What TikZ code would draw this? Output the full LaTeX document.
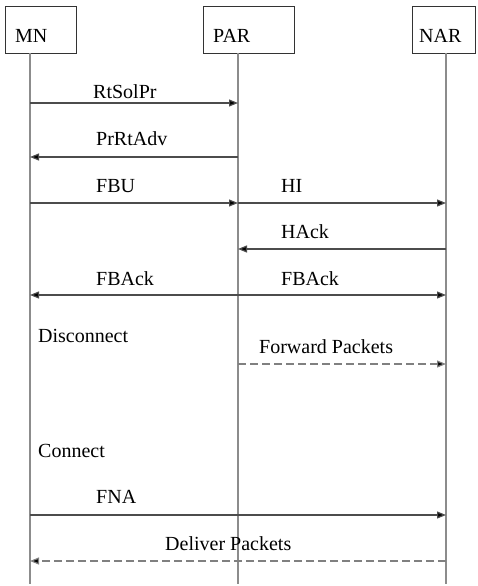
\documentclass[tikz,border=0pt]{standalone}
\usepackage{fontspec}
\setmainfont{Liberation Serif}
\usetikzlibrary{arrows.meta}
\begin{document}
\begin{tikzpicture}[x=1pt,y=-1pt,
  entity/.style={draw=black!80,line width=1pt,inner sep=0pt,anchor=north west},
  lifeline/.style={draw=black!45,line width=1.6pt},
  msg/.style={draw=black!70,line width=1.2pt,-{Triangle[length=9pt,width=7pt,fill=black]}},
  dmsg/.style={msg,draw=black!50,dash pattern=on 8pt off 4pt},
  lbl/.style={anchor=base west,inner sep=0pt,font=\fontsize{20}{24}\selectfont}]
\useasboundingbox (0,0) rectangle (477,586);
% participant boxes
\node[entity,minimum width=71pt,minimum height=47pt] (mnbox) at (5,6) {};
\node[entity,minimum width=91pt,minimum height=47pt] (parbox) at (203,6) {};
\node[entity,minimum width=63pt,minimum height=47pt] (narbox) at (412,6) {};
\node[lbl] (mnt) at (15,43) {MN};
\node[lbl] (part) at (213,43) {PAR};
\node[lbl] (nart) at (419,43) {NAR};
% lifelines
\coordinate (mn) at (30,53);
\coordinate (par) at (238,53);
\coordinate (nar) at (446,53);
\coordinate (mnend) at (30,584);
\coordinate (parend) at (238,584);
\coordinate (narend) at (446,584);
\draw[lifeline] (mn) -- (mnend);
\draw[lifeline] (par) -- (parend);
\draw[lifeline] (nar) -- (narend);
% message rows
\coordinate (r1) at (0,103);
\coordinate (r2) at (0,157);
\coordinate (r3) at (0,203);
\coordinate (r4) at (0,249);
\coordinate (r5) at (0,295);
\coordinate (r6) at (0,364);
\coordinate (r7) at (0,515);
\coordinate (r8) at (0,561);
\draw[msg] (mn |- r1) -- (par |- r1);
\draw[msg] (par |- r2) -- (mn |- r2);
\draw[msg] (mn |- r3) -- (par |- r3);
\draw[msg] (par |- r3) -- (nar |- r3);
\draw[msg] (nar |- r4) -- (par |- r4);
\draw[msg] (par |- r5) -- (mn |- r5);
\draw[msg] (par |- r5) -- (nar |- r5);
\draw[dmsg] (par |- r6) -- (nar |- r6);
\draw[msg] (mn |- r7) -- (nar |- r7);
\draw[dmsg] (nar |- r8) -- (mn |- r8);
% labels
\node[lbl] (l1) at (93,98) {RtSolPr};
\node[lbl] (l2) at (96,145) {PrRtAdv};
\node[lbl] (l3) at (96,192) {FBU};
\node[lbl] (l4) at (281,192) {HI};
\node[lbl] (l5) at (281,238) {HAck};
\node[lbl] (l6) at (96,285) {FBAck};
\node[lbl] (l7) at (281,285) {FBAck};
\node[lbl] (l8) at (38,342) {Disconnect};
\node[lbl] (l9) at (259,353) {Forward Packets};
\node[lbl] (l10) at (38,457) {Connect};
\node[lbl] (l11) at (96,503) {FNA};
\node[lbl] (l12) at (165,550) {Deliver Packets};
\end{tikzpicture}
\end{document}
